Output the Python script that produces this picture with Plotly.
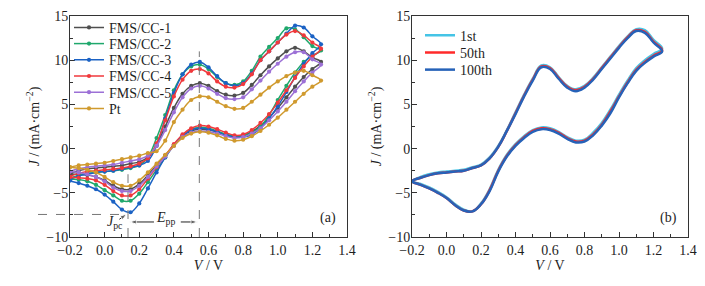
import plotly.graph_objects as go

# ---------------- data ----------------
V_SCAN = [-0.20, -0.15, -0.10, -0.05, 0.00, 0.05, 0.10, 0.15, 0.20, 0.25,
          0.30, 0.35, 0.40, 0.45, 0.50, 0.55, 0.60, 0.65, 0.70, 0.75,
          0.80, 0.85, 0.90, 0.95, 1.00, 1.05, 1.10, 1.15, 1.20, 1.25]

# panel (a): forward (anodic, upper) and reverse (cathodic, lower) branches, on V_SCAN
cc1_fwd = [-2.9, -2.5, -2.3, -2.2, -2.1, -2.0, -1.9, -1.7, -1.5, -1.0, 0.4, 2.5, 4.6, 6.2, 7.1,
           7.4, 7.1, 6.5, 6.1, 6.0, 6.3, 7.2, 8.3, 9.3, 10.2, 11.0, 11.4, 11.0, 10.3, 9.8]
cc1_rev = [-2.9, -2.9, -3.0, -3.2, -3.6, -4.2, -4.6, -4.6, -4.0, -3.0, -1.9, -0.8, 0.4, 1.4, 2.0,
           2.2, 2.1, 1.9, 1.6, 1.4, 1.5, 1.9, 2.6, 3.5, 4.6, 5.8, 7.0, 8.1, 9.0, 9.8]

cc2_fwd = [-3.4, -3.0, -2.8, -2.7, -2.6, -2.5, -2.4, -2.2, -1.9, -1.0, 1.2, 3.8, 6.6, 8.4, 9.3,
           9.5, 9.0, 8.1, 7.4, 7.2, 7.6, 8.8, 10.4, 11.5, 12.5, 13.6, 13.5, 12.6, 11.6, 11.1]
cc2_rev = [-3.4, -3.5, -3.7, -4.1, -4.7, -5.3, -5.9, -5.9, -5.1, -3.8, -2.4, -1.0, 0.4, 1.5, 2.2,
           2.4, 2.3, 2.0, 1.6, 1.4, 1.5, 1.8, 2.5, 3.8, 5.5, 7.1, 8.6, 9.8, 10.5, 11.1]

cc3_fwd = [-3.6, -3.1, -2.9, -2.7, -2.6, -2.5, -2.3, -2.1, -1.9, -1.4, 0.3, 3.4, 6.3, 8.4, 9.5,
           9.8, 9.2, 8.2, 7.4, 7.1, 7.4, 8.5, 10.0, 11.0, 12.0, 13.0, 13.9, 13.7, 12.7, 11.8]
cc3_rev = [-3.6, -3.9, -4.2, -4.6, -5.2, -6.0, -6.9, -7.2, -6.2, -4.5, -2.7, -1.0, 0.4, 1.4, 2.1,
           2.3, 2.2, 1.9, 1.5, 1.3, 1.3, 1.6, 2.3, 3.4, 4.8, 6.4, 8.1, 9.6, 10.8, 11.8]

cc4_fwd = [-3.2, -2.8, -2.6, -2.5, -2.4, -2.3, -2.2, -2.0, -1.7, -1.1, 0.6, 3.2, 5.9, 7.8, 8.8,
           9.0, 8.5, 7.6, 7.0, 6.9, 7.3, 8.4, 10.0, 11.0, 12.0, 12.9, 13.3, 12.8, 12.0, 11.3]
cc4_rev = [-3.2, -3.3, -3.4, -3.6, -4.1, -4.8, -5.3, -5.3, -4.6, -3.4, -2.1, -0.8, 0.5, 1.6, 2.3,
           2.6, 2.5, 2.2, 1.8, 1.5, 1.6, 2.1, 2.9, 3.9, 5.2, 6.6, 8.0, 9.3, 10.4, 11.3]

cc5_fwd = [-2.6, -2.3, -2.1, -2.0, -1.9, -1.8, -1.6, -1.4, -1.2, -0.8, 0.3, 2.1, 4.1, 5.8, 6.8,
           7.1, 6.8, 6.2, 5.7, 5.6, 5.8, 6.7, 7.7, 8.7, 9.6, 10.4, 10.9, 10.9, 10.1, 9.5]
cc5_rev = [-2.6, -2.7, -2.9, -3.2, -3.7, -4.4, -4.8, -4.8, -4.2, -3.2, -2.0, -0.9, 0.3, 1.3, 1.8,
           2.0, 1.9, 1.7, 1.4, 1.2, 1.3, 1.7, 2.3, 3.2, 4.2, 5.3, 6.5, 7.6, 8.6, 9.5]

pt_fwd = [-2.1, -1.9, -1.8, -1.7, -1.6, -1.4, -1.2, -1.0, -0.8, -0.5, -0.3, 0.9, 3.0, 4.4, 5.5,
          5.9, 5.8, 5.3, 4.8, 4.5, 4.6, 5.3, 6.1, 6.9, 7.6, 8.2, 8.6, 8.8, 8.3, 7.7]
pt_rev = [-2.1, -2.2, -2.4, -2.7, -3.2, -3.8, -4.2, -4.2, -3.6, -2.7, -1.7, -0.7, 0.3, 1.2, 1.7,
          1.9, 1.8, 1.5, 1.1, 0.9, 1.0, 1.4, 2.0, 2.7, 3.5, 4.4, 5.3, 6.2, 7.0, 7.7]

SERIES_A = ["FMS/CC-1", "FMS/CC-2", "FMS/CC-3", "FMS/CC-4", "FMS/CC-5", "Pt"]

# panel (b): cycling stability
c1_fwd = [-3.7, -3.2, -2.9, -2.7, -2.6, -2.5, -2.4, -2.1, -1.8, -1.0, 0.3, 2.1, 4.1, 6.1, 7.9,
          9.4, 9.2, 8.1, 7.1, 6.7, 7.1, 8.0, 9.2, 10.4, 11.6, 12.7, 13.5, 13.4, 12.3, 11.3]
c1_rev = [-3.7, -4.0, -4.4, -4.9, -5.5, -6.3, -6.9, -7.1, -6.2, -4.6, -2.4, -0.7, 0.5, 1.4, 2.1,
          2.4, 2.3, 1.9, 1.3, 0.9, 1.0, 1.8, 2.9, 4.4, 6.1, 7.7, 9.1, 10.0, 10.7, 11.3]
c50_fwd = [-3.7, -3.3, -3.0, -2.8, -2.7, -2.6, -2.5, -2.2, -1.9, -1.1, 0.2, 2.0, 4.0, 6.0, 7.8,
           9.3, 9.1, 8.0, 7.0, 6.6, 7.0, 7.9, 9.1, 10.3, 11.5, 12.6, 13.4, 13.2, 12.1, 11.1]
c50_rev = [-3.7, -4.1, -4.5, -5.0, -5.6, -6.4, -7.0, -7.1, -6.3, -4.7, -2.5, -0.8, 0.4, 1.3, 2.0,
           2.3, 2.2, 1.8, 1.2, 0.8, 0.9, 1.6, 2.7, 4.2, 5.9, 7.5, 8.9, 9.8, 10.5, 11.1]
c100_fwd = [-3.7, -3.3, -3.0, -2.8, -2.7, -2.6, -2.5, -2.2, -1.9, -1.1, 0.2, 2.0, 3.9, 5.9, 7.7,
            9.2, 9.0, 7.9, 6.9, 6.5, 6.9, 7.8, 9.0, 10.2, 11.4, 12.5, 13.3, 13.1, 12.0, 11.0]
c100_rev = [-3.7, -4.1, -4.5, -5.0, -5.6, -6.4, -7.0, -7.1, -6.3, -4.8, -2.6, -0.9, 0.3, 1.2, 1.9,
            2.2, 2.1, 1.7, 1.1, 0.7, 0.8, 1.5, 2.6, 4.0, 5.8, 7.4, 8.8, 9.7, 10.4, 11.0]

SERIES_B = ["1st", "50th", "100th"]

X_TICKS = [-0.2, 0.0, 0.2, 0.4, 0.6, 0.8, 1.0, 1.2, 1.4]
Y_TICKS = [-10, -5, 0, 5, 10, 15]

# guide-line positions
V_PC = 0.135     # cathodic peak potential
V_PA = 0.547     # anodic peak potential
J_PC = -7.45     # cathodic peak current of FMS/CC-3
J_TOP = 11.0     # top of anodic guide line
J_PC_TOP = -2.9  # top of cathodic guide line
J_EPP = -8.3     # level of E_pp arrows

# ---------------- styles ----------------
COL_A = ["#4f4f4f", "#1fa86c", "#1b62c4", "#f0393c", "#9c70d6", "#d09a2e"]
COL_B = ["#45c4e6", "#ff2a2a", "#2662b8"]
FONT = "Liberation Serif, Times New Roman, serif"
TXT = "#1e1e1e"

# the page body adds an 8 px offset, so the figure is drawn 8 px smaller
OFF = 8
W, H = 705 - OFF, 286 - OFF
ML, MT = 70 - OFF, 12 - OFF
MR, MB = W - (688 - OFF), H - (237 - OFF)
PW, PH = W - ML - MR, H - MT - MB
DOM_XA = [0, (347 - 70) / PW]
DOM_XB = [(412 - 70) / PW, 1]

# legend rows (screen px of the reference): left edge and row centres
LEG_A_X, LEG_A_ROWS = 69, [24, 40.5, 57, 73.5, 90, 106.5]
LEG_B_X, LEG_B_ROWS = 420, [32, 49.5, 67]


def px_x(p):
    # reference-screen pixel -> paper x
    return (p - 70) / PW


def px_y(p):
    # reference-screen pixel -> paper y
    return (237 - p) / PH


def loop(fwd, rev):
    xs = V_SCAN + V_SCAN[::-1][1:]
    ys = fwd + rev[::-1][1:]
    return xs, ys


fig = go.Figure()
legends = {}
leg_font = dict(family=FONT, size=14, color=TXT)

data_a = [(cc1_fwd, cc1_rev), (cc2_fwd, cc2_rev), (cc3_fwd, cc3_rev),
          (cc4_fwd, cc4_rev), (cc5_fwd, cc5_rev), (pt_fwd, pt_rev)]
k = 0
for (name, (f, r), c), row in zip(zip(SERIES_A, data_a, COL_A), LEG_A_ROWS):
    k += 1
    lid = "legend" if k == 1 else f"legend{k}"
    xs, ys = loop(f, r)
    fig.add_trace(go.Scatter(
        x=xs, y=ys, name=name, mode="lines+markers",
        line=dict(color=c, width=1.5, shape="spline", smoothing=1.0),
        marker=dict(symbol="circle", size=4.2, color=c),
        xaxis="x", yaxis="y", legend=lid))
    legends[lid] = dict(x=px_x(LEG_A_X), y=px_y(row), xanchor="left", yanchor="middle",
                        bgcolor="rgba(0,0,0,0)", font=leg_font, itemwidth=30)

data_b = [(c1_fwd, c1_rev), (c50_fwd, c50_rev), (c100_fwd, c100_rev)]
for (name, (f, r), c), row in zip(zip(SERIES_B, data_b, COL_B), LEG_B_ROWS):
    k += 1
    lid = f"legend{k}"
    xs, ys = loop(f, r)
    fig.add_trace(go.Scatter(
        x=xs, y=ys, name=name, mode="lines",
        line=dict(color=c, width=2.5, shape="spline", smoothing=1.2),
        xaxis="x2", yaxis="y2", legend=lid))
    legends[lid] = dict(x=px_x(LEG_B_X), y=px_y(row), xanchor="left", yanchor="middle",
                        bgcolor="rgba(0,0,0,0)", font=leg_font, itemwidth=30)

# arrows for the J_pc / E_pp annotation (line + arrow head)
arrow_kw = dict(mode="lines+markers", showlegend=False, hoverinfo="skip",
                line=dict(color="#222222", width=1),
                marker=dict(symbol="arrow", size=[0, 7], angleref="previous", color="#222222"),
                xaxis="x", yaxis="y")
fig.add_trace(go.Scatter(x=[0.085, 0.128], y=[-8.0, -7.4], **arrow_kw))
fig.add_trace(go.Scatter(x=[0.285, V_PC + 0.01], y=[J_EPP, J_EPP], **arrow_kw))
fig.add_trace(go.Scatter(x=[0.44, V_PA - 0.01], y=[J_EPP, J_EPP], **arrow_kw))

axis_common = dict(
    showgrid=False, zeroline=False, showline=True, linecolor="#333333", linewidth=1,
    mirror=True, ticks="inside", ticklen=5, tickwidth=1, tickcolor="#333333",
    automargin=False,
    tickfont=dict(family=FONT, size=14, color=TXT),
)
xcommon = dict(axis_common, range=[-0.2, 1.4], tickvals=X_TICKS, tickformat=".1f",
               minor=dict(dtick=0.1, ticks="inside", ticklen=3, tickcolor="#333333"),
               title=dict(text="<i>V</i> / V", font=dict(family=FONT, size=14, color=TXT),
                          standoff=3))
ycommon = dict(axis_common, range=[-10, 15], tickvals=Y_TICKS, ticklabelstandoff=-2,
               minor=dict(dtick=2.5, ticks="inside", ticklen=3, tickcolor="#333333"),
               title=dict(text="<i>J</i> / (mA·cm<sup>−2</sup>)",
                          font=dict(family=FONT, size=14, color=TXT), standoff=3))

fig.update_layout(
    width=W, height=H, margin=dict(l=ML, r=MR, t=MT, b=MB),
    paper_bgcolor="white", plot_bgcolor="white",
    xaxis=dict(xcommon, domain=DOM_XA, anchor="y"),
    yaxis=dict(ycommon, domain=[0, 1], anchor="x"),
    xaxis2=dict(xcommon, domain=DOM_XB, anchor="y2"),
    yaxis2=dict(ycommon, domain=[0, 1], anchor="x2"),
    showlegend=True,
    **legends,
)

dash = dict(color="#777777", width=1, dash="dash")
fig.add_shape(type="line", xref="x", yref="y", x0=V_PA, x1=V_PA, y0=-10, y1=J_TOP, line=dash)
fig.add_shape(type="line", xref="x", yref="y", x0=V_PC, x1=V_PC, y0=-10, y1=J_PC_TOP, line=dash)
# horizontal guide for J_pc (extends past the axis to the left)
fig.add_shape(type="line", xref="paper", yref="paper", x0=px_x(38),
              x1=DOM_XA[0] + (V_PC + 0.2) / 1.6 * (DOM_XA[1] - DOM_XA[0]),
              y0=(J_PC + 10) / 25, y1=(J_PC + 10) / 25, line=dash)

ann_font = dict(family=FONT, size=14, color=TXT)
fig.add_annotation(xref="x", yref="y", x=0.06, y=-8.4, text="<i>J</i><sub>pc</sub>",
                   showarrow=False, font=ann_font)
fig.add_annotation(xref="x", yref="y", x=0.35, y=-7.95, text="<i>E</i><sub>pp</sub>",
                   showarrow=False, font=ann_font)
fig.add_annotation(xref="x", yref="y", x=1.29, y=-7.9, text="(a)", showarrow=False, font=ann_font)
fig.add_annotation(xref="x2", yref="y2", x=1.285, y=-7.9, text="(b)", showarrow=False,
                   font=ann_font)

fig.write_html("out.html")
